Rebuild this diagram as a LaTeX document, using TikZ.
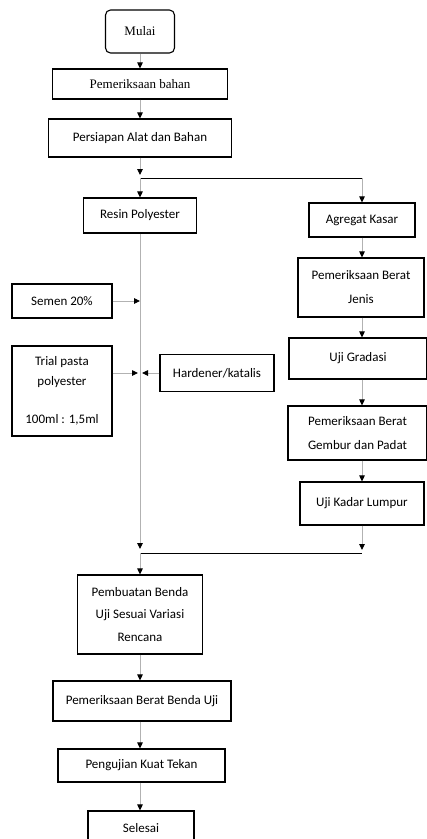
\documentclass[tikz,border=0pt]{standalone}
\usepackage{fontspec}
\setmainfont{Carlito}
\newfontfamily\timesfont{Liberation Serif}
\usetikzlibrary{arrows.meta}

\begin{document}
\begin{tikzpicture}[x=1pt, y=-1pt,
    box/.style={draw, line width=1.1pt, inner sep=0pt, align=center, font=\fontsize{13}{23}\selectfont},
    flow/.style={draw=gray!60, line width=0.9pt, -{Triangle[length=6pt,width=5.5pt,color=black]}},
    garis/.style={draw, line width=1pt}]
  \useasboundingbox (0,0) rectangle (427,839);

  % kolom kiri
  \node[box, rounded corners=5pt, minimum width=69pt, minimum height=43pt, font=\timesfont\fontsize{13}{16}\selectfont] (mulai) at (140,31.5) {Mulai};
  \node[box, minimum width=175pt, minimum height=30pt, font=\timesfont\fontsize{13}{16}\selectfont] (bahan) at (140,84) {Pemeriksaan bahan};
  \node[box, minimum width=183pt, minimum height=38pt] (persiapan) at (140,138) {Persiapan Alat dan Bahan};
  \node[box, minimum width=113pt, minimum height=35pt] (resin) at (140,215.5) {Resin Polyester};
  \node[box, minimum width=100pt, minimum height=34pt] (semen) at (62,301) {Semen 20\%};
  \node[box, minimum width=100pt, minimum height=90pt, font=\fontsize{13}{20}\selectfont] (trial) at (62,391) {Trial pasta\\polyester\\[18pt]100ml : 1,5ml};
  \node[box, minimum width=114pt, minimum height=37pt] (hardener) at (217,373) {Hardener/katalis};
  \node[box, minimum width=125pt, minimum height=79pt, font=\fontsize{13}{22.5}\selectfont] (pembuatan) at (140,614.5) {Pembuatan Benda\\Uji Sesuai Variasi\\Rencana};
  \node[box, minimum width=178pt, minimum height=40pt] (berat) at (142,701) {Pemeriksaan Berat Benda Uji};
  \node[box, minimum width=167pt, minimum height=33pt] (tekan) at (141.5,765.5) {Pengujian Kuat Tekan};
  \node[box, minimum width=106pt, minimum height=34pt] (selesai) at (141,828) {Selesai};

  % kolom kanan
  \node[box, minimum width=106pt, minimum height=34pt] (agregat) at (362,220) {Agregat Kasar};
  \node[box, minimum width=126pt, minimum height=59pt, font=\fontsize{13}{24}\selectfont] (jenis) at (361,287.5) {Pemeriksaan Berat\\Jenis};
  \node[box, minimum width=138pt, minimum height=41pt] (gradasi) at (358,358.5) {Uji Gradasi};
  \node[box, minimum width=139pt, minimum height=54pt, font=\fontsize{13}{24}\selectfont] (gembur) at (357.5,433) {Pemeriksaan Berat\\Gembur dan Padat};
  \node[box, minimum width=124pt, minimum height=43pt] (lumpur) at (362,503.5) {Uji Kadar Lumpur};

  \coordinate (cabang) at (140,178);
  \coordinate (cabangkanan) at (362,178);
  \coordinate (gabung) at (140,553);
  \coordinate (gabungkanan) at (362,553);

  % panah
  \draw[flow] (mulai) -- (bahan);
  \draw[flow] (bahan) -- (persiapan);
  \draw[flow, shorten >=3pt] (persiapan) -- (cabang);
  \draw[garis] (cabang) -- (cabangkanan);
  \draw[flow] (cabang) -- (resin);
  \draw[flow] (cabangkanan) -- (agregat);
  \draw[flow] (agregat) -- (agregat |- jenis.north);
  \draw[flow] (jenis.south -| cabangkanan) -- (gradasi.north -| cabangkanan);
  \draw[flow] (gradasi.south -| cabangkanan) -- (gembur.north -| cabangkanan);
  \draw[flow] (gembur.south -| cabangkanan) -- (lumpur);
  \draw[flow, shorten >=3pt] (lumpur) -- (gabungkanan);

  \draw[flow, shorten >=4pt] (resin) -- (gabung);
  \draw[flow] (semen) -- (semen -| resin);
  \draw[flow] (trial.east |- hardener) -- ([xshift=-2pt]resin |- hardener);
  \draw[flow] (hardener) -- ([xshift=2pt]resin |- hardener);
  \draw[garis] (gabung) -- (gabungkanan);
  \draw[flow] (gabung) -- (pembuatan);
  \draw[flow] (pembuatan) -- (berat.north -| pembuatan);
  \draw[flow] (berat.south -| pembuatan) -- (tekan.north -| pembuatan);
  \draw[flow] (tekan.south -| pembuatan) -- (selesai.north -| pembuatan);
\end{tikzpicture}
\end{document}
